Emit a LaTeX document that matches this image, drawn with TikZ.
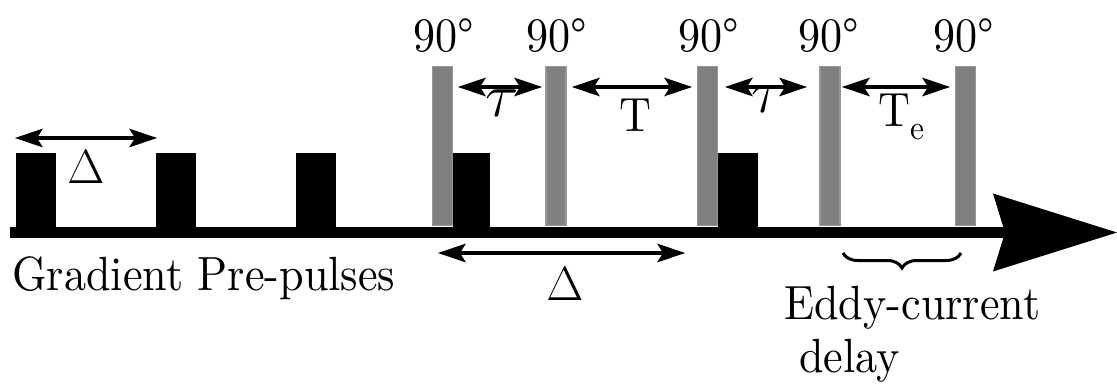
\RequirePackage{fix-cm}
\documentclass[tikz,border=0pt]{standalone}
\usepackage{fontspec}
\setmainfont{lmroman10}[Extension=.otf, UprightFont=*-regular, FakeStretch=0.92]
\usetikzlibrary{arrows.meta,decorations.pathreplacing}
\definecolor{rfgray}{RGB}{128,128,128}
\definecolor{rfedge}{RGB}{150,150,150}
\tikzset{
  gradpulse/.style={rectangle, fill=black, inner sep=0pt, minimum width=40pt, minimum height=75pt, anchor=south},
  rfpulse/.style={rectangle, fill=rfgray, draw=rfedge, line width=1.2pt, inner sep=0pt, minimum width=20pt, minimum height=159pt, anchor=south},
  lbl/.style={inner sep=0pt, anchor=base, font=\rmfamily\fontsize{48}{58}\selectfont},
  taulbl/.style={lbl, font=\rmfamily\fontsize{62}{70}\selectfont},
  dimarrow/.style={line width=4pt, {Stealth[length=28pt,width=19pt,inset=6pt,line width=0pt]}-{Stealth[length=28pt,width=19pt,inset=6pt,line width=0pt]}},
  axisline/.style={line width=11pt, -{Stealth[length=124pt,width=78pt,inset=12pt,line width=0pt]}},
  bracestyle/.style={line width=3pt, decorate, decoration={brace, mirror, amplitude=15pt}}
}
\begin{document}
\begin{tikzpicture}[x=1pt,y=-1pt]
\useasboundingbox (0,0) rectangle (1117,385);
% axis
\coordinate (axs) at (10,232.5);
\coordinate (axe) at (1117,232.5);
\draw[axisline] (axs) -- (axe);
% gradient pulses
\node[gradpulse] (gp1) at (35.5,228) {};
\node[gradpulse] (gp2) at (176,228) {};
\node[gradpulse] (gp3) at (315.5,228) {};
\node[gradpulse, minimum width=37pt] (gp4) at (471,228) {};
\node[gradpulse] (gp5) at (738,228) {};
% rf pulses
\node[rfpulse] (rf1) at (442.5,226) {};
\node[rfpulse] (rf2) at (556,226) {};
\node[rfpulse] (rf3) at (707.5,226) {};
\node[rfpulse] (rf4) at (830,226) {};
\node[rfpulse] (rf5) at (965.5,226) {};
% 90 degree labels
\node[lbl] (l1) at (444,52) {90°};
\node[lbl] (l2) at (557,52) {90°};
\node[lbl] (l3) at (709,52) {90°};
\node[lbl] (l4) at (829,52) {90°};
\node[lbl] (l5) at (964,52) {90°};
% dimension arrows
\coordinate (d1a) at (15,138);  \coordinate (d1b) at (157,138);
\draw[dimarrow] (d1a) -- (d1b);
\node[lbl] (delta1) at (86,183) {$\Delta$};
\coordinate (t1a) at (458,87);  \coordinate (t1b) at (542,87);
\draw[dimarrow] (t1a) -- (t1b);
\node[taulbl] (tau1) at (502,117) {$\tau$};
\coordinate (Ta) at (572,87);  \coordinate (Tb) at (692,87);
\draw[dimarrow] (Ta) -- (Tb);
\node[lbl] (Tlbl) at (635,132) {T};
\coordinate (t2a) at (725,87);  \coordinate (t2b) at (807,87);
\draw[dimarrow] (t2a) -- (t2b);
\node[taulbl] (tau2) at (768,113) {$\tau$};
\coordinate (Tea) at (842,87);  \coordinate (Teb) at (950,87);
\draw[dimarrow] (Tea) -- (Teb);
\node[lbl, anchor=base west] (Te) at (878,127) {T\raisebox{-13pt}{\fontsize{34}{40}\selectfont e}};
\coordinate (d2a) at (438,253);  \coordinate (d2b) at (685,253);
\draw[dimarrow] (d2a) -- (d2b);
\node[lbl] (delta2) at (565,300) {$\Delta$};
% texts
\node[lbl, anchor=base west] (grad) at (12,290) {Gradient Pre-pulses};
\coordinate (bra) at (843,253);  \coordinate (brb) at (961,253);
\draw[bracestyle] (bra) -- (brb);
\node[lbl, anchor=base west] (eddy) at (784,319) {Eddy-current};
\node[lbl, anchor=base west] (delay) at (799,372) {delay};
\end{tikzpicture}
\end{document}
